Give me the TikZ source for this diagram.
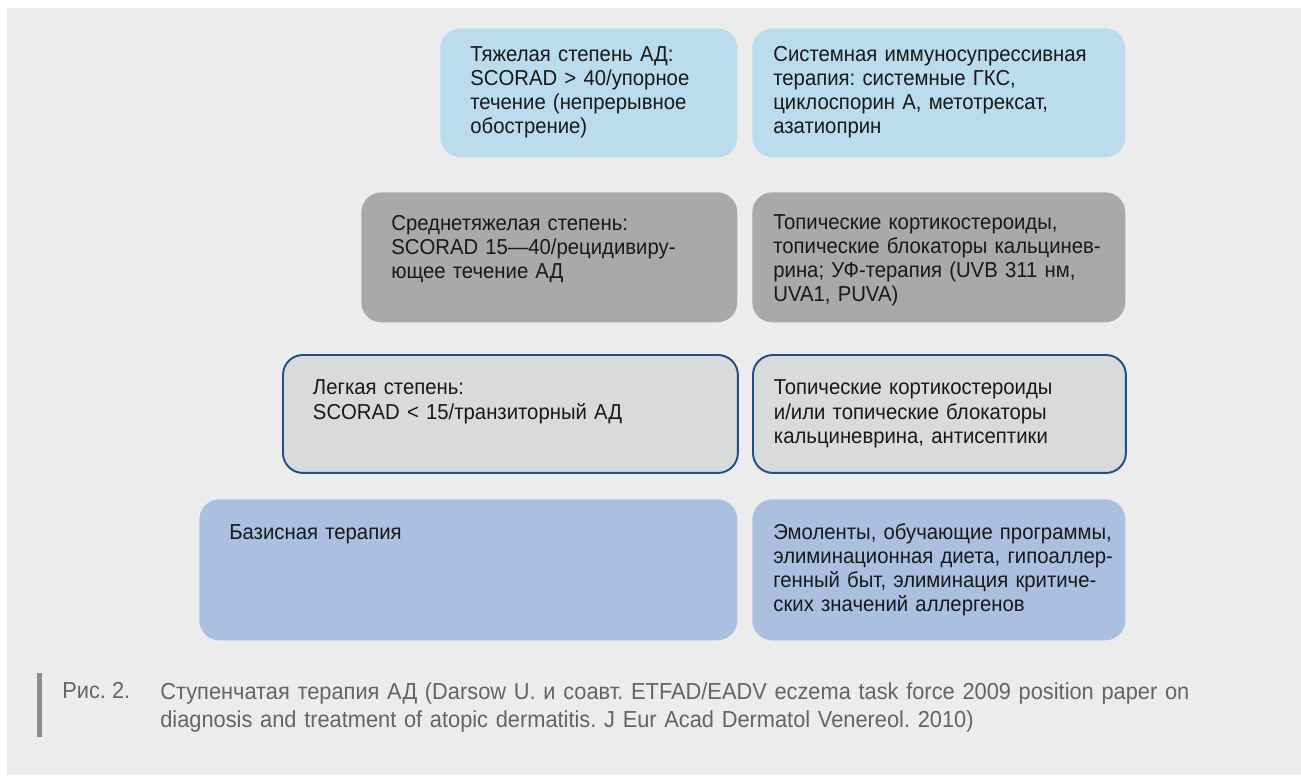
\documentclass[tikz,border=0pt]{standalone}
\usepackage{fontspec}
\setmainfont[FakeStretch=0.94]{Liberation Sans}
\usetikzlibrary{positioning}
\definecolor{cPanel}{RGB}{236,236,236}
\definecolor{cSky}{RGB}{186,220,236}
\definecolor{cStone}{RGB}{169,169,169}
\definecolor{cMist}{RGB}{217,218,218}
\definecolor{cNavy}{RGB}{31,78,140}
\definecolor{cLilac}{RGB}{171,192,224}
\definecolor{cBar}{RGB}{140,140,140}
\definecolor{cNote}{RGB}{100,100,100}
\frenchspacing

\begin{document}
\begin{tikzpicture}[x=0.02cm, y=-0.02cm,
    tile/.style={rounded corners=0.4cm, anchor=north west, align=left,
                 inner ysep=0pt, text=black!90,
                 font=\fontsize{12.3}{13.7}\selectfont},
    lhs/.style={tile, inner xsep=0.6cm},
    rhs/.style={tile, inner xsep=0.2cm, minimum width=7.46cm, text width=7.06cm,
                execute at begin node={\leftskip=0.22cm}},
    note/.style={anchor=north west, inner sep=0pt, align=left, text=cNote,
                 font=\fontsize{13.2}{15.9}\selectfont}]
    \path[use as bounding box] (0,0) rectangle (1301,775);
    \fill[cPanel] (7,8) rectangle (1301,775);
    % severe
    \node[lhs, fill=cSky, minimum width=5.94cm, text width=4.74cm,
          text height=0.66cm, text depth=1.92cm] (sev) at (440,28)
        {Тяжелая степень АД:\\SCORAD > 40/упорное\\течение (непрерывное\\обострение)};
    \node[rhs, fill=cSky, text height=0.66cm, text depth=1.92cm] (sevT) at (752,28)
        {Системная иммуносупрессивная\\терапия: системные ГКС,\\циклоспорин А, метотрексат,\\азатиоприн};
    % moderate
    \node[lhs, fill=cStone, minimum width=7.52cm, text width=6.32cm,
          text height=0.76cm, text depth=1.84cm] (mod) at (361,192)
        {Среднетяжелая степень:\\SCORAD 15---40/рецидивиру-\\ющее течение АД};
    \node[rhs, fill=cStone, text height=0.74cm, text depth=1.86cm] (modT) at (752,192)
        {Топические кортикостероиды,\\топические блокаторы кальцинев-\\рина; УФ-терапия (UVB 311 нм,\\UVA1, PUVA)};
    % mild
    \node[lhs, fill=cMist, draw=cNavy, line width=1.1pt, minimum width=9.1cm,
          text width=7.9cm, text height=0.8cm, text depth=1.56cm] (mild) at (282,354)
        {Легкая степень:\\SCORAD < 15/транзиторный АД};
    \node[rhs, fill=cMist, draw=cNavy, line width=1.1pt,
          text height=0.8cm, text depth=1.56cm] (mildT) at (752,354)
        {Топические кортикостероиды\\и/или топические блокаторы\\кальциневрина, антисептики};
    % basic
    \node[lhs, fill=cLilac, minimum width=10.76cm, text width=9.56cm,
          text height=0.8cm, text depth=2.02cm] (base) at (199,499)
        {Базисная терапия};
    \node[rhs, fill=cLilac, text height=0.8cm, text depth=2.02cm] (baseT) at (752,499)
        {Эмоленты, обучающие программы,\\элиминационная диета, гипоаллер-\\генный быт, элиминация критиче-\\ских значений аллергенов};
    % caption
    \fill[cBar] (37,673) rectangle (42,737);
    \node[note] (fig) at (62,682) {Рис. 2.};
    \node[note, text width=22cm] (cap) at (160,682)
        {Ступенчатая терапия АД (Darsow U. и соавт. ETFAD/EADV eczema task force 2009 position paper on\\diagnosis and treatment of atopic dermatitis. J Eur Acad Dermatol Venereol. 2010)};
\end{tikzpicture}
\end{document}
